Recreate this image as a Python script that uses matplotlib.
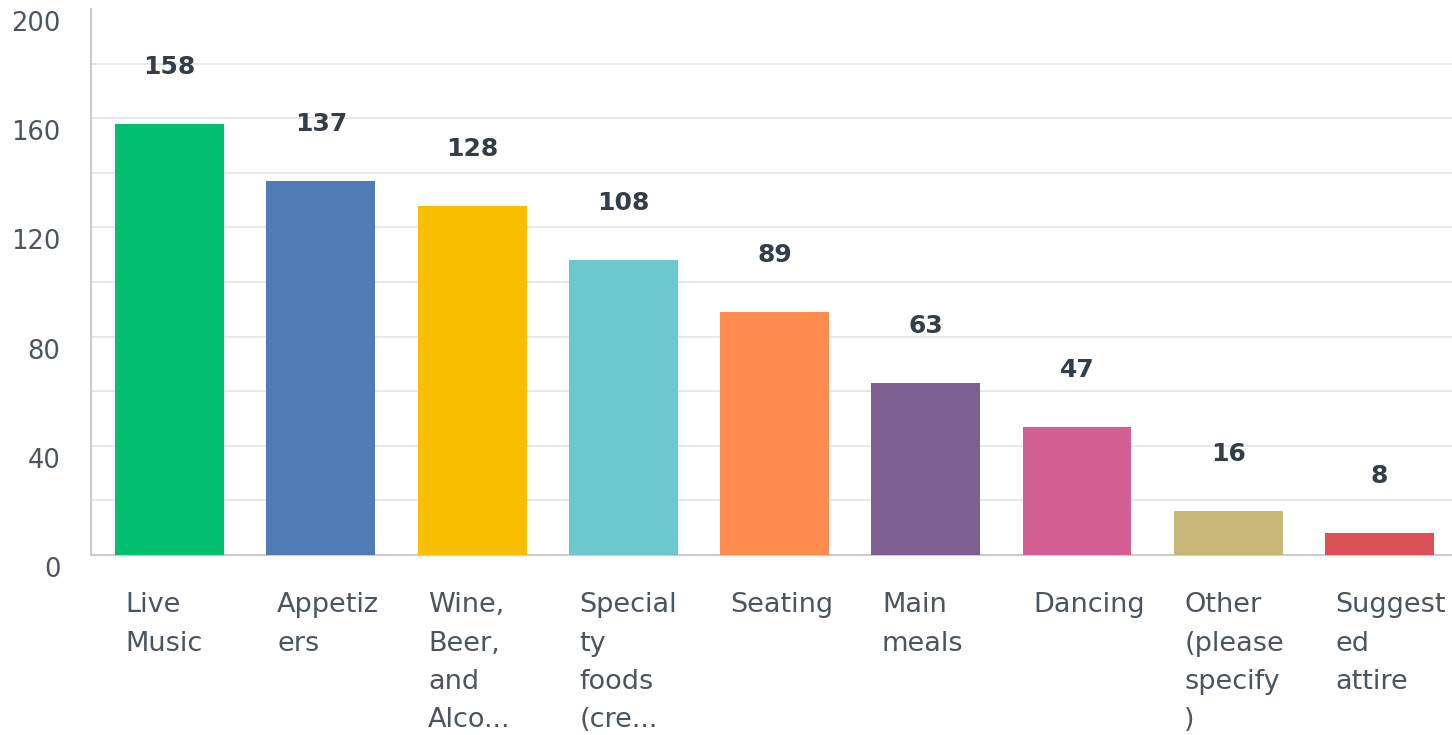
import matplotlib.pyplot as plt
from matplotlib.transforms import ScaledTranslation, blended_transform_factory

# Survey answers
labels = ["Live\nMusic", "Appetiz\ners", "Wine,\nBeer,\nand\nAlco...",
          "Special\nty\nfoods\n(cre...", "Seating", "Main\nmeals", "Dancing",
          "Other\n(please\nspecify\n)", "Suggest\ned\nattire"]
counts = [158, 137, 128, 108, 89, 63, 47, 16, 8]
colors = ["#00bf6f", "#507cb6", "#f9be00", "#6bc8cd", "#ff8b4f",
          "#7f5f90", "#d25f90", "#c7b879", "#dc5158"]
y_ticks = [0, 40, 80, 120, 160, 200]

plt.rcParams['font.family'] = ['DejaVu Sans']
fig = plt.figure(figsize=(14.52, 7.35), dpi=100)
ax = fig.add_axes([91 / 1452, 180 / 735, 1 - 91 / 1452, 546 / 735])

w = 0.72
xs = [i + 0.02 for i in range(len(counts))]
ax.bar(xs, counts, width=w, color=colors, zorder=3)

for xi, v in zip(xs, counts):
    ax.annotate(str(v), (xi, v), xytext=(0, 41), textcoords='offset points',
                ha='center', va='center', fontsize=18, fontweight='bold',
                color='#333e48')

# category labels, left aligned under each bar
tr = blended_transform_factory(ax.transData, ax.transAxes)
for i, lab in enumerate(labels):
    ax.text(i - w / 2 + 0.09, -0.068, lab, transform=tr, ha='left', va='top',
            fontsize=19.5, color='#4a5560', linespacing=1.62)

ax.set_xlim(-0.5, len(counts) - 0.5)
ax.set_ylim(0, 200)
ax.set_xticks([])
ax.set_yticks(y_ticks)
ax.set_yticks(range(20, 200, 40), minor=True)
ax.tick_params(axis='y', which='both', length=0, pad=22, labelsize=18.5,
               labelcolor='#4a5560')
off = ScaledTranslation(0, -12 / 100, fig.dpi_scale_trans)
for t in ax.get_yticklabels():
    t.set_transform(t.get_transform() + off)

ax.grid(True, axis='y', which='both', color='#e8e8e8', linewidth=1.5, zorder=0)
ax.get_ygridlines()[-1].set_visible(False)
for s in ['top', 'right']:
    ax.spines[s].set_visible(False)
ax.spines['left'].set_color('#cccccc')
ax.spines['bottom'].set_color('#cccccc')
ax.spines['left'].set_linewidth(1.5)
ax.spines['bottom'].set_linewidth(1.5)

fig.savefig('out.png', dpi=100)
